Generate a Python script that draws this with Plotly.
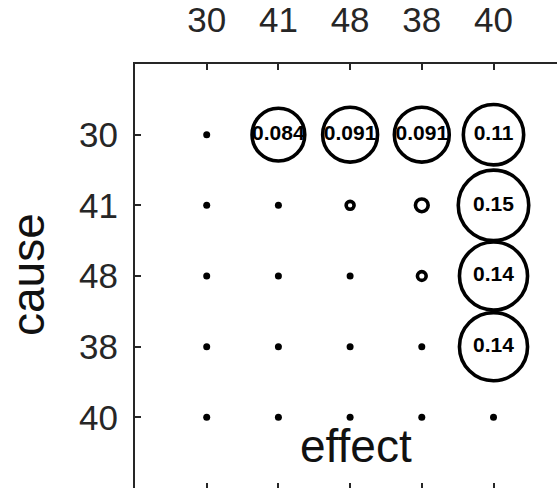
import plotly.graph_objects as go
import numpy as np

effect_labels = ["30", "41", "48", "38", "40"]
cause_labels = ["30", "41", "48", "38", "40"]
# rows = cause, columns = effect
values = [
    [0.0, 0.084, 0.091, 0.091, 0.11],
    [0.0, 0.0, 0.0019, 0.0049, 0.15],
    [0.0, 0.0, 0.0, 0.0023, 0.14],
    [0.0, 0.0, 0.0, 0.0, 0.14],
    [0.0, 0.0, 0.0, 0.0, 0.0],
]

xs, ys, vs = [], [], []
for i, row in enumerate(values):
    for j, v in enumerate(row):
        xs.append(j + 1)
        ys.append(i + 1)
        vs.append(v)
vs = np.array(vs)
sizes = np.where(vs > 0, 182 * np.sqrt(vs), 7)
texts = [("%.2g" % v) if v >= 0.01 else "" for v in vs]

W, H = 557, 488
L, T = 135, 60
pw, ph = W - L, H - T
step = 71.7
axis_col = "#262626"
font_fam = "Arial, Liberation Sans, Helvetica, sans-serif"

fig = go.Figure()
fig.add_trace(go.Scatter(
    x=xs, y=ys, mode="markers+text",
    marker=dict(size=sizes, symbol="circle", opacity=1,
                color=["rgba(0,0,0,0)" if v > 0 else "black" for v in vs],
                line=dict(color="black", width=[3.6 if v > 0 else 0 for v in vs])),
    text=texts, textposition="middle center",
    textfont=dict(family=font_fam, size=21, color="black", weight="bold"),
    hoverinfo="skip", showlegend=False,
))
fig.add_trace(go.Scatter(
    x=xs, y=ys, xaxis="x2", mode="markers", marker=dict(opacity=0),
    hoverinfo="skip", showlegend=False,
))

fig.update_layout(
    width=W, height=H,
    margin=dict(l=L, r=0, t=T, b=0, pad=0),
    paper_bgcolor="white", plot_bgcolor="white",
    xaxis=dict(
        side="top", range=[0, pw / step],
        tickmode="array", tickvals=[1, 2, 3, 4, 5], ticktext=effect_labels,
        showline=True, linecolor=axis_col, linewidth=2,
        ticks="inside", ticklen=6, tickwidth=2, tickcolor=axis_col,
        showgrid=False, zeroline=False,
        tickfont=dict(family=font_fam, size=35, color=axis_col),
        ticklabelstandoff=16,
    ),
    xaxis2=dict(
        overlaying="x", side="bottom", anchor="y", matches="x",
        tickmode="array", tickvals=[1, 2, 3, 4, 5],
        showline=False, showticklabels=False,
        ticks="inside", ticklen=5, tickwidth=2, tickcolor=axis_col,
        showgrid=False, zeroline=False,
    ),
    yaxis=dict(
        range=[6, 0],
        tickmode="array", tickvals=[1, 2, 3, 4, 5], ticktext=cause_labels,
        showline=True, linecolor=axis_col, linewidth=2,
        ticks="inside", ticklen=6, tickwidth=2, tickcolor=axis_col,
        showgrid=False, zeroline=False,
        tickfont=dict(family=font_fam, size=35, color=axis_col),
        ticklabelstandoff=8,
    ),
    annotations=[
        dict(text="effect", xref="paper", yref="paper",
             x=(356 - L) / pw, y=(H - 446) / ph, xanchor="center", yanchor="middle",
             showarrow=False, font=dict(family=font_fam, size=46, color="#111111")),
        dict(text="cause", xref="paper", yref="paper", textangle=-90,
             x=(28 - L) / pw, y=(H - 273) / ph, xanchor="center", yanchor="middle",
             showarrow=False, font=dict(family=font_fam, size=46, color="#111111")),
    ],
)

fig.write_html("out.html")
